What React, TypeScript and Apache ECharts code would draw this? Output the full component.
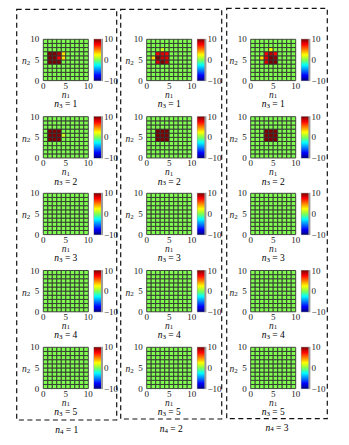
import React, { useEffect, useRef } from 'react';
import * as echarts from 'echarts';

// ---------- data ----------
const N4_LABELS = ['1', '2', '3'];
const N3_LABELS = ['1', '2', '3', '4', '5'];
const AXIS_MIN = 0;
const AXIS_MAX = 10;
const AXIS_STEP = 5;
const CBAR_MIN = -10;
const CBAR_MAX = 10;
const CBAR_STEP = 10;
const JET = ['#00007f', '#0000ff', '#007fff', '#00ffff', '#80ff50', '#ffff00', '#ff7f00', '#ff0000', '#7f0000'];

// non-zero cells of each panel: [n1, n2, value]; every other cell reads 0
const HOT_N4_1_N3_1 = [[1, 6, 10], [2, 6, 10], [3, 6, 9], [4, 6, 3], [1, 5, 10], [2, 5, 10], [3, 5, 7.5], [4, 5, 3], [1, 4, 10], [2, 4, 10], [3, 4, 10]];
const HOT_N4_1_N3_2 = [[1, 6, 10], [2, 6, 10], [3, 6, 10], [1, 5, 10], [2, 5, 10], [3, 5, 10], [4, 5, 1.5], [1, 4, 10], [2, 4, 10], [3, 4, 10]];
const HOT_N4_2_N3_1 = [[2, 6, 7.5], [3, 6, 8], [4, 6, 7.5], [3, 7, 1.5], [1, 5, 3], [2, 5, 10], [3, 5, 8.5], [4, 5, 8], [2, 4, 8], [3, 4, 10], [4, 4, 8.5]];
const HOT_N4_2_N3_2 = [[2, 6, 10], [3, 6, 10], [4, 6, 10], [2, 5, 10], [3, 5, 10], [4, 5, 10], [2, 4, 10], [3, 4, 10], [4, 4, 10]];
const HOT_N4_3_N3_1 = [[3, 6, 7.5], [4, 6, 9], [5, 6, 7.5], [4, 7, 2.5], [2, 5, 3], [3, 5, 8], [4, 5, 10], [5, 5, 9.5], [3, 4, 8], [4, 4, 10], [5, 4, 10]];
const HOT_N4_3_N3_2 = [[3, 6, 10], [4, 6, 10], [5, 6, 10], [3, 5, 10], [4, 5, 10], [5, 5, 10], [3, 4, 10], [4, 4, 10], [5, 4, 10]];
const HOT_EMPTY: number[][] = [];

const PANELS = [
  [HOT_N4_1_N3_1, HOT_N4_1_N3_2, HOT_EMPTY, HOT_EMPTY, HOT_EMPTY],
  [HOT_N4_2_N3_1, HOT_N4_2_N3_2, HOT_EMPTY, HOT_EMPTY, HOT_EMPTY],
  [HOT_N4_3_N3_1, HOT_N4_3_N3_2, HOT_EMPTY, HOT_EMPTY, HOT_EMPTY],
];

// ---------- layout ----------
const FONT = '"Liberation Serif", "DejaVu Serif", serif';
const GRID_LEFT = [43.3, 146.7, 250.7];
const GRID_TOP = [39.3, 116.7, 193.3, 270.5, 347.3];
const GRID_W = 45;
const GRID_H = 41.3;
const CB_OFFSET = 50.7;
const CB_W = 7;
const BOX_X = [16.7, 120.7, 226.7];
const BOX_Y = [9.3, 9.3, 8.3];
const BOX_R = [116.7, 221.7, 327.3];
const BOX_B = [420, 419, 418.7];
const N4_LABEL_TOP = [425, 424, 422.5];

const RICH = {
  i: { fontFamily: FONT, fontStyle: 'italic', fontSize: 9.5, lineHeight: 7, verticalAlign: 'top', color: '#222' },
  s: { fontFamily: FONT, fontSize: 7, lineHeight: 5, padding: [3, 0, 0, 0], verticalAlign: 'top', color: '#222' },
  r: { fontFamily: FONT, fontSize: 9.5, lineHeight: 7, verticalAlign: 'top', color: '#222' },
};

function fullGrid(hot: number[][]) {
  const m = new Map<string, number>();
  hot.forEach(([x, y, v]) => m.set(x + ',' + y, v));
  const out: number[][] = [];
  for (let x = AXIS_MIN; x < AXIS_MAX; x++) {
    for (let y = AXIS_MIN; y < AXIS_MAX; y++) {
      const v = m.get(x + ',' + y);
      out.push([x, y, v === undefined ? 0 : v]);
    }
  }
  return out;
}

const minus = (v: number) => (v < 0 ? '\u2212' + Math.abs(v) : String(v));

export default function App() {
  const ref = useRef<HTMLDivElement>(null);
  useEffect(() => {
    if (!ref.current) return;
    const chart = echarts.init(ref.current, undefined, { renderer: 'svg' });
    const grids: any[] = [];
    const xAxes: any[] = [];
    const yAxes: any[] = [];
    const series: any[] = [];
    const seriesIdx: number[] = [];
    const elements: any[] = [];
    const labelStyle = { fontFamily: FONT, fontSize: 9, lineHeight: 8, color: '#222' };

    for (let c = 0; c < 3; c++) {
      for (let r = 0; r < 5; r++) {
        const left = GRID_LEFT[c];
        const top = GRID_TOP[r];
        const gi = grids.length;
        grids.push({ left, top, width: GRID_W, height: GRID_H });
        xAxes.push({
          gridIndex: gi, type: 'value', min: AXIS_MIN, max: AXIS_MAX, interval: AXIS_STEP,
          name: '{i|n}{s|1}', nameLocation: 'middle', nameGap: 9, nameMoveOverlap: false,
          nameTextStyle: { rich: RICH },
          axisLine: { show: false }, axisTick: { show: false }, splitLine: { show: false },
          axisLabel: { ...labelStyle, margin: 1 },
        });
        yAxes.push({
          gridIndex: gi, type: 'value', min: AXIS_MIN, max: AXIS_MAX, interval: AXIS_STEP,
          name: '{i|n}{s|2}', nameLocation: 'middle', nameGap: 13, nameRotate: 0, nameMoveOverlap: false,
          nameTextStyle: { rich: RICH },
          axisLine: { show: false }, axisTick: { show: false }, splitLine: { show: false },
          axisLabel: { ...labelStyle, margin: 4 },
        });
        seriesIdx.push(series.length);
        series.push({
          type: 'custom', xAxisIndex: gi, yAxisIndex: gi,
          data: fullGrid(PANELS[c][r]),
          encode: { x: 0, y: 1 },
          renderItem: (params: any, api: any) => {
            const x = api.value(0);
            const y = api.value(1);
            const p0 = api.coord([x, y + 1]);
            const p1 = api.coord([x + 1, y]);
            return {
              type: 'rect',
              shape: { x: p0[0], y: p0[1], width: p1[0] - p0[0], height: p1[1] - p0[1] },
              style: { fill: api.visual('color'), stroke: '#333', lineWidth: 0.9 },
            };
          },
        });
        // colorbar axis
        const cg = grids.length;
        grids.push({ left: left + CB_OFFSET, top, width: CB_W, height: GRID_H });
        xAxes.push({ gridIndex: cg, type: 'value', show: false });
        yAxes.push({
          gridIndex: cg, type: 'value', position: 'right', min: CBAR_MIN, max: CBAR_MAX, interval: CBAR_STEP,
          axisLine: { show: false }, axisTick: { show: false }, splitLine: { show: false },
          axisLabel: { ...labelStyle, margin: 3, formatter: minus },
        });
        elements.push({
          type: 'rect', silent: true,
          shape: { x: left + CB_OFFSET - 0.5, y: top - 0.5, width: CB_W + 2.5, height: GRID_H + 1 },
          style: { fill: '#9a9a9a' },
        });
        elements.push({
          type: 'rect', silent: true,
          shape: { x: left + CB_OFFSET, y: top, width: CB_W, height: GRID_H },
          style: {
            fill: new echarts.graphic.LinearGradient(0, 0, 0, 1,
              JET.slice().reverse().map((col, i) => ({ offset: i / (JET.length - 1), color: col }))),
          },
        });
        elements.push({
          type: 'text', silent: true,
          x: left + GRID_W / 2, y: top + GRID_H + 18.6,
          style: { text: '{i|n}{s|3}{r| = ' + N3_LABELS[r] + '}', rich: RICH, align: 'center', verticalAlign: 'top' },
        });
      }
      elements.push({
        type: 'rect', silent: true,
        shape: { x: BOX_X[c], y: BOX_Y[c], width: BOX_R[c] - BOX_X[c], height: BOX_B[c] - BOX_Y[c] },
        style: { fill: 'none', stroke: '#111', lineWidth: 1.2, lineDash: [5, 3.5] },
      });
      elements.push({
        type: 'text', silent: true,
        x: (BOX_X[c] + BOX_R[c]) / 2, y: N4_LABEL_TOP[c],
        style: { text: '{i|n}{s|4}{r| = ' + N4_LABELS[c] + '}', rich: RICH, align: 'center', verticalAlign: 'top' },
      });
    }

    chart.setOption({
      animation: false,
      backgroundColor: '#fff',
      grid: grids,
      xAxis: xAxes,
      yAxis: yAxes,
      visualMap: {
        type: 'continuous', show: false, min: CBAR_MIN, max: CBAR_MAX, dimension: 2,
        seriesIndex: seriesIdx, inRange: { color: JET },
      },
      series,
      graphic: { elements },
    });
    return () => chart.dispose();
  }, []);
  return <div ref={ref} style={{ position: 'fixed', left: 0, top: 0, width: 349, height: 445 }} />;
}
